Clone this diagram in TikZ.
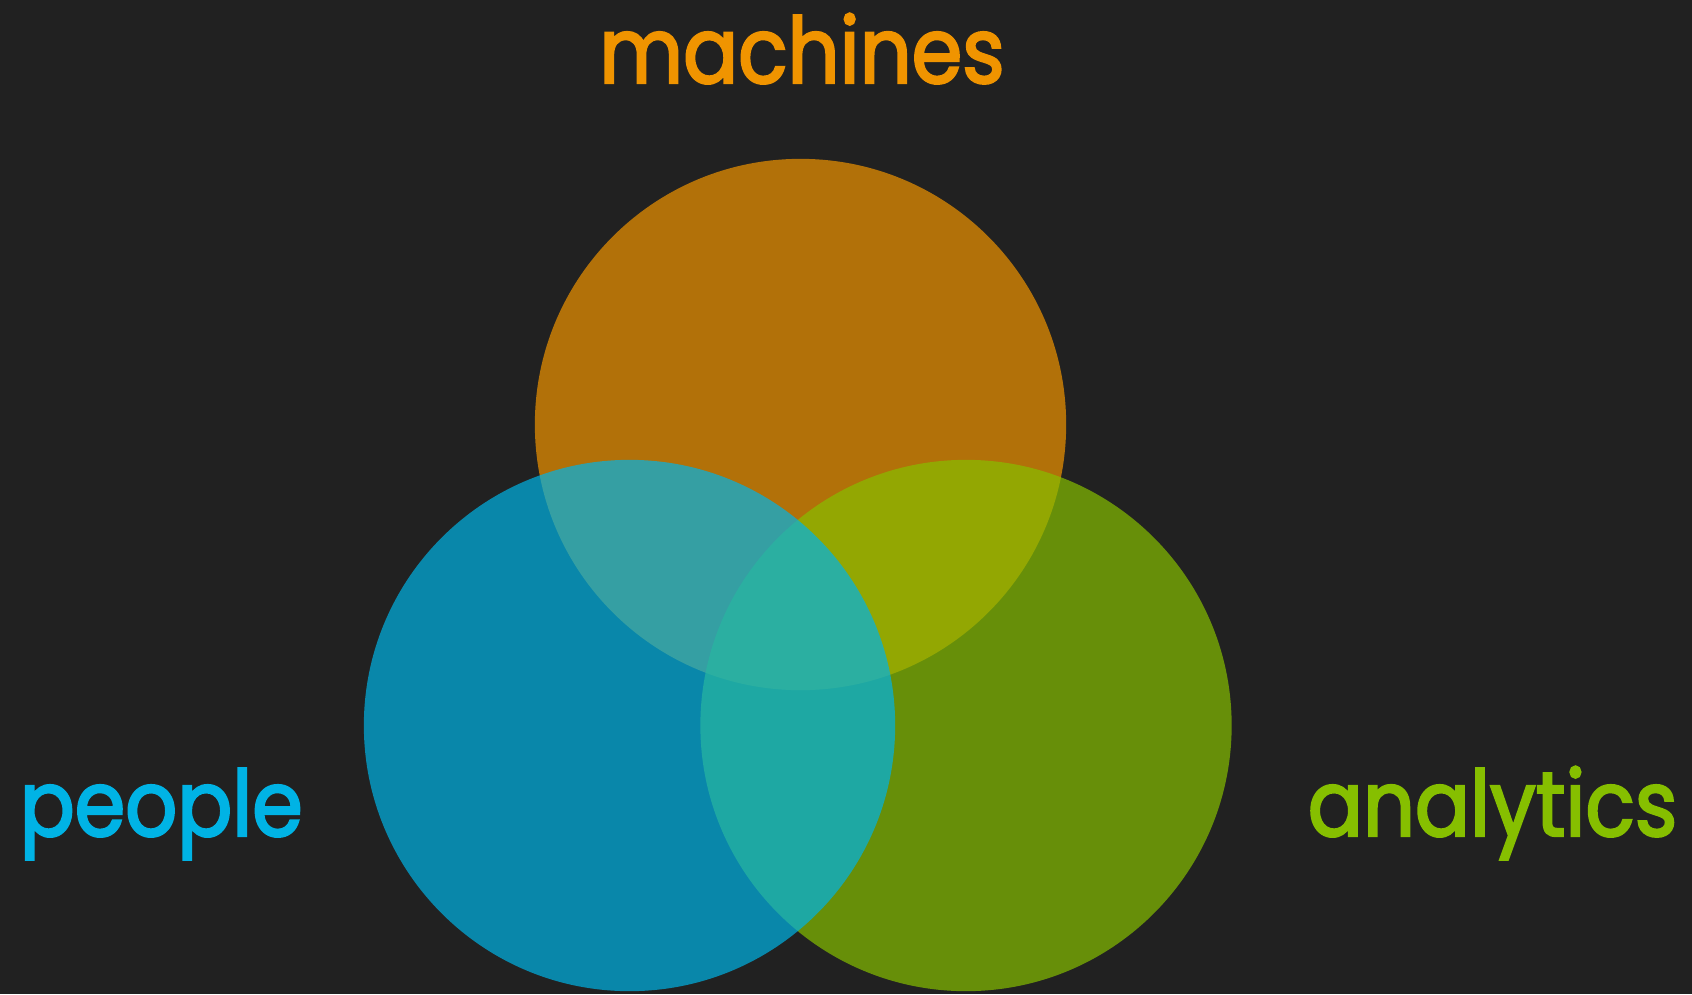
\documentclass[tikz,border=0pt]{standalone}
\usepackage{fontspec}
\setmainfont{Poppins}[FakeStretch=0.89,FakeBold=2.5]
\definecolor{fond}{HTML}{212121}
\definecolor{orangem}{HTML}{F09400}
\definecolor{bleup}{HTML}{00B3E5}
\definecolor{verta}{HTML}{86BF00}
\begin{document}
\begin{tikzpicture}[x=0.01cm,y=-0.01cm,
	cercle/.style={circle, inner sep=0pt, minimum size=5.31cm, fill opacity=0.7},
	titre/.style={anchor=base, inner sep=0pt, font=\fontsize{26}{30}\selectfont}]
	% Fond sombre
	\fill[fond] (0,0) rectangle (1692,994);
	
	% Cercles (orange, puis vert, puis bleu au-dessus)
	\node[cercle, fill=orangem] (cmachines) at (800.5,424.5) {};
	\node[cercle, fill=verta] (canalytics) at (966,725.5) {};
	\node[cercle, fill=bleup] (cpeople) at (629.5,725.5) {};
	
	% Etiquettes
	\node[titre, text=orangem] (machines) at (802,83) {machines};
	\node[titre, anchor=base west, text=bleup] (people) at (19,836) {people};
	\node[titre, anchor=base east, text=verta] (analytics) at (1678,836) {analytics};
\end{tikzpicture}
\end{document}
